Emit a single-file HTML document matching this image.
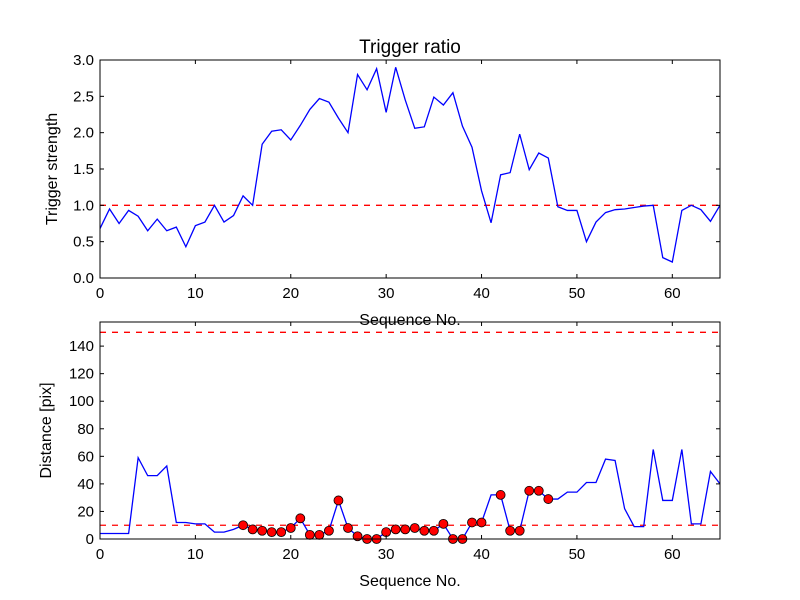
<!DOCTYPE html>
<html><head><meta charset="utf-8"><style>
body{margin:0;background:#fff}
svg{display:block;font-family:"Liberation Sans","DejaVu Sans",sans-serif}
</style></head><body>
<svg id="chart" width="800" height="600" viewBox="0 0 800 600" xmlns="http://www.w3.org/2000/svg">
<rect width="800" height="600" fill="#fff"/>
<text x="410" y="53" font-size="19" text-anchor="middle">Trigger ratio</text>
<g id="g1"></g>
<g id="g2"></g>
</svg>
<script>
const ratio=[0.68,0.95,0.75,0.93,0.85,0.65,0.81,0.65,0.70,0.43,0.72,0.77,1.00,0.77,0.86,1.13,1.00,1.84,2.02,2.04,1.90,2.10,2.32,2.47,2.42,2.20,2.00,2.80,2.59,2.88,2.28,2.90,2.45,2.06,2.08,2.49,2.38,2.55,2.09,1.80,1.20,0.76,1.42,1.45,1.98,1.49,1.72,1.65,0.98,0.93,0.93,0.50,0.77,0.90,0.94,0.95,0.97,0.99,1.00,0.28,0.22,0.93,1.00,0.94,0.78,1.00];
const distance=[4,4,4,4,59,46,46,53,12,12,11,11,5,5,7,10,7,6,5,5,8,15,3,3,6,28,8,2,0,0,5,7,7,8,6,6,11,0,0,12,12,32,32,6,6,35,35,29,29,34,34,41,41,58,57,22,9,9,65,28,28,65,11,11,49,40];
const flagged=[15,16,17,18,19,20,21,22,23,24,25,26,27,28,29,30,31,32,33,34,35,36,37,38,39,40,42,43,44,45,46,47];
const xTicks=[0,10,20,30,40,50,60];
const yTicksTop=[0,0.5,1.0,1.5,2.0,2.5,3.0];
const yTicksBot=[0,20,40,60,80,100,120,140];
const ratioThreshold=1.0;
const distLimits=[10,150];
const NS="http://www.w3.org/2000/svg";
function mk(p,t,a){const e=document.createElementNS(NS,t);for(const k in a)e.setAttribute(k,a[k]);p.appendChild(e);return e;}
function panel(g,top,bot,ymax,yTicks,fmt,ylabel,series,limits,marks){
  const L=100,R=720;
  const X=v=>L+(R-L)*v/65, Y=v=>bot-(bot-top)*v/ymax;
  // limit lines
  limits.forEach(l=>{const e=mk(g,'line',{x1:L,x2:R,y1:Y(l),y2:Y(l),stroke:'#f00','stroke-width':1.3,'stroke-dasharray':'6,6'});
    
    });
  const pts=series.map((v,i)=>X(i).toFixed(2)+','+Y(v).toFixed(2)).join(' ');
  const pl=mk(g,'polyline',{points:pts,fill:'none',stroke:'#00f','stroke-width':1.3});
  
  
  (marks||[]).forEach(i=>{const c=mk(g,'circle',{cx:X(i),cy:Y(series[i]),r:4.5,fill:'#f00',stroke:'#000','stroke-width':0.8});
    
    });
  // mask overflow then frame
  const fr=mk(g,'rect',{x:L,y:top,width:R-L,height:bot-top,fill:'none',stroke:'#000','stroke-width':1});
  
  
  xTicks.forEach(t=>{const x=X(t);
    mk(g,'line',{x1:x,x2:x,y1:bot,y2:bot-4,stroke:'#000'});mk(g,'line',{x1:x,x2:x,y1:top,y2:top+4,stroke:'#000'});
    const tx=mk(g,'text',{x:x,y:bot+20,'font-size':15,'text-anchor':'middle'});tx.textContent=t;
    
    });
  yTicks.forEach(t=>{const y=Y(t);
    mk(g,'line',{x1:L,x2:L+4,y1:y,y2:y,stroke:'#000'});mk(g,'line',{x1:R,x2:R-4,y1:y,y2:y,stroke:'#000'});
    const tx=mk(g,'text',{x:L-6,y:y+5,'font-size':15,'text-anchor':'end'});tx.textContent=fmt(t);
    
    });
  const xl=mk(g,'text',{x:410,y:bot+47,'font-size':16,'text-anchor':'middle'});xl.textContent='Sequence No.';
  
  
  const cy=(top+bot)/2;
  const yl=mk(g,'text',{x:0,y:0,'font-size':16,'text-anchor':'middle',transform:`translate(${ylabel[1]},${cy}) rotate(-90)`});yl.textContent=ylabel[0];
  
  
}
panel(document.getElementById('g1'),60,278,3.0,yTicksTop,t=>t.toFixed(1),['Trigger strength',57],ratio,[ratioThreshold],null);
panel(document.getElementById('g2'),322,539,157.5,yTicksBot,t=>String(t),['Distance [pix]',51],distance,distLimits,flagged);
</script>
</body></html>
